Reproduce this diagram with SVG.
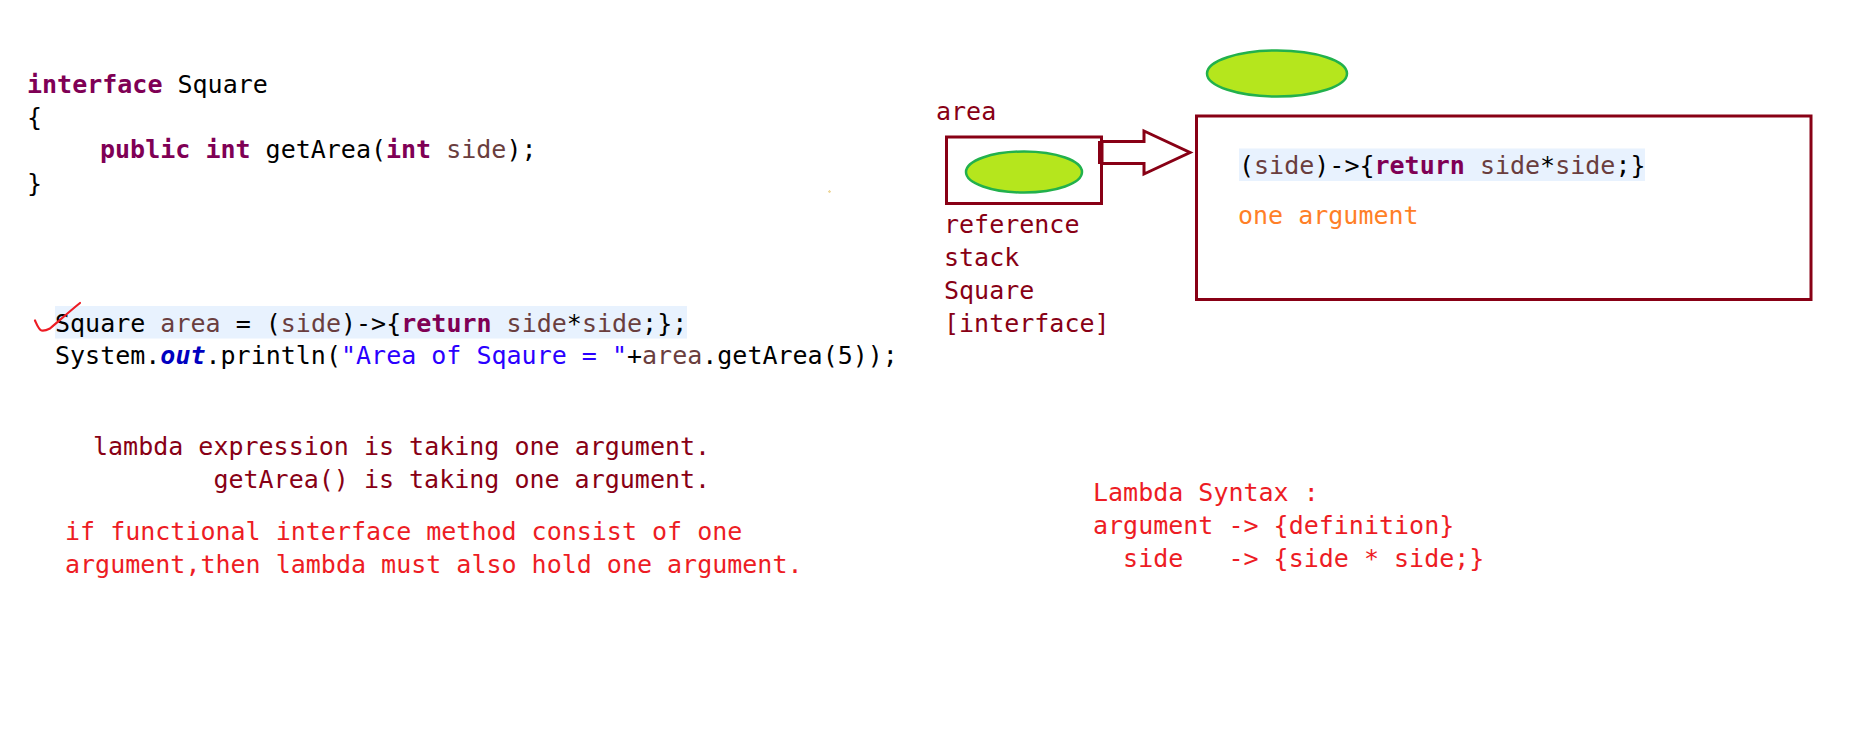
<svg xmlns="http://www.w3.org/2000/svg" width="1852" height="743" viewBox="0 0 1852 743">
<style>
text { font-family: "DejaVu Sans Mono", "Liberation Mono", monospace; font-size: 25px; white-space: pre; fill: #000; }
.kw { fill: #7F0055; font-weight: bold; }
.var { fill: #6A3E3E; }
.str { fill: #2A00FF; }
.fld { fill: #0000C0; font-weight: bold; font-style: italic; }
.dred { fill: #880015; }
.red { fill: #ED1C24; }
.org { fill: #FF7F27; }
.hl { fill: #E8F2FE; }
.box { fill: #fff; stroke: #880015; stroke-width: 3; }
.blob { fill: #B5E61D; stroke: #22B14C; stroke-width: 2.5; }
</style>
<rect width="1852" height="743" fill="#fff"/>

<g id="interface-code">
<text x="27" y="92.7" xml:space="preserve"><tspan class="kw">interface</tspan> Square</text>
<text x="27" y="125.7">{</text>
<text x="100" y="158.3" xml:space="preserve"><tspan class="kw">public</tspan> <tspan class="kw">int</tspan> getArea(<tspan class="kw">int</tspan> <tspan class="var">side</tspan>);</text>
<text x="27" y="191.5">}</text>
</g>

<g id="lambda-code">
<rect class="hl" x="55" y="306" width="632" height="32.5"/>
<text x="55" y="331.5" xml:space="preserve">Square <tspan class="var">area</tspan> = (<tspan class="var">side</tspan>)-&gt;{<tspan class="kw">return</tspan> <tspan class="var">side</tspan>*<tspan class="var">side</tspan>;};</text>
<text x="55" y="364" xml:space="preserve">System.<tspan class="fld">out</tspan>.println(<tspan class="str">"Area of Sqaure = "</tspan>+<tspan class="var">area</tspan>.getArea(5));</text>
<path d="M35,320.5 C37,325 39,330 41.5,330.5 C44,331 47,330 50,328.5 C60,320 70,311 80,303" fill="none" stroke="#ED1C24" stroke-width="2.2" stroke-linecap="round" stroke-linejoin="round"/>
</g>

<g id="notes">
<text class="dred" x="93" y="455" xml:space="preserve">lambda expression is taking one argument.</text>
<text class="dred" x="213.4" y="488" xml:space="preserve">getArea() is taking one argument.</text>
<text class="red" x="65" y="540" xml:space="preserve">if functional interface method consist of one</text>
<text class="red" x="65" y="573" xml:space="preserve">argument,then lambda must also hold one argument.</text>
</g>

<g id="reference-area">
<text class="dred" x="936" y="120">area</text>
<rect class="box" x="946.5" y="137" width="155" height="66.5"/>
<ellipse class="blob" cx="1024" cy="172" rx="58" ry="20.5"/>
<text class="dred" x="944" y="232.7">reference</text>
<text class="dred" x="944" y="265.5">stack</text>
<text class="dred" x="944" y="298.5">Square</text>
<text class="dred" x="944" y="332">[interface]</text>
</g>

<g id="heap-object">
<ellipse class="blob" cx="1277" cy="73.5" rx="70" ry="23"/>
<rect class="box" x="1196.5" y="116" width="614.5" height="183.5"/>
<rect class="hl" x="1239" y="148.5" width="406" height="32.5"/>
<text x="1239" y="173.5" xml:space="preserve">(<tspan class="var">side</tspan>)-&gt;{<tspan class="kw">return</tspan> <tspan class="var">side</tspan>*<tspan class="var">side</tspan>;}</text>
<text class="org" x="1238" y="224">one argument</text>
</g>

<g id="lambda-syntax">
<text class="red" x="1093" y="500.7" xml:space="preserve">Lambda Syntax :</text>
<text class="red" x="1093" y="533.5" xml:space="preserve">argument -&gt; {definition}</text>
<text class="red" x="1093" y="566.5" xml:space="preserve">  side   -&gt; {side * side;}</text>
</g>

<g id="speck">
<rect x="828" y="191" width="3" height="1.2" fill="#EED9A0"/>
<rect x="828.9" y="190" width="1.2" height="3" fill="#EED9A0"/>
</g>

<g id="connectors">
<polygon points="1102,141.5 1144,141.5 1144,131 1190,152.5 1144,174 1144,163.5 1102,163.5" fill="#fff" stroke="#880015" stroke-width="3" stroke-linejoin="miter"/>
<rect x="1098" y="141" width="5" height="23" fill="#880015"/>
</g>
</svg>
